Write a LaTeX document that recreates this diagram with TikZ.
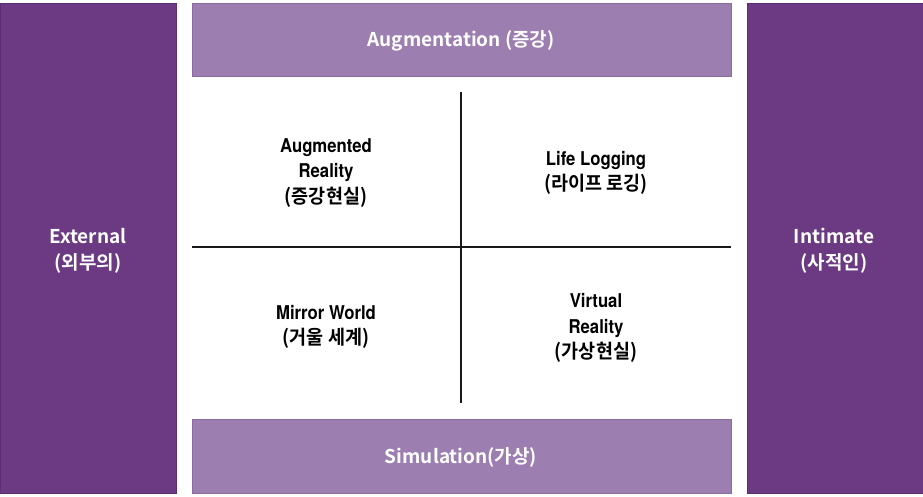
\documentclass[tikz,border=0pt]{standalone}
\usepackage{fontspec}
\newfontfamily\barfont{Noto Sans CJK KR}[BoldFont={Noto Sans CJK KR Bold}]
\newfontfamily\qlat{TeX Gyre Heros}[FakeStretch=0.88]
\newfontfamily\qkr{Noto Sans CJK KR}[BoldFont={Noto Sans CJK KR Bold},FakeStretch=0.95]
\definecolor{darkpurple}{RGB}{108,58,131}
\definecolor{darkedge}{RGB}{92,44,116}
\definecolor{lightpurple}{RGB}{157,126,176}
\definecolor{lightedge}{RGB}{140,106,162}
\begin{document}
\begin{tikzpicture}[x=1pt,y=-1pt,
  sidebar/.style={fill=darkpurple,draw=darkedge,line width=0.8pt},
  axisbar/.style={fill=lightpurple,draw=lightedge,line width=0.8pt},
  bartext/.style={text=white,align=center,font=\barfont\bfseries\fontsize{19}{26}\selectfont},
  quadtext/.style={text=black,align=center,font=\qlat\bfseries\fontsize{19}{25.5}\selectfont},
  axisline/.style={draw=black!90,line width=2pt}]
\useasboundingbox (0,0) rectangle (923,496);
\fill[white] (0,0) rectangle (923,496);
\draw[sidebar] (0,3) rectangle (176,493);
\draw[sidebar] (747,3) rectangle (923,493);
\draw[axisbar] (192,3) rectangle (731,76);
\draw[axisbar] (192,419) rectangle (731,493);
\coordinate (vtop) at (461,92);
\coordinate (vbot) at (461,403);
\coordinate (hleft) at (192,247);
\coordinate (hright) at (731,247);
\draw[axisline] (vtop) -- (vbot);
\draw[axisline] (hleft) -- (hright);
\node[bartext] (aug) at (461,41) {Augmentation (증강)};
\node[bartext] (sim) at (461,457) {Simulation(가상)};
\node[bartext] (ext) at (88,251) {External\\(외부의)};
\node[bartext] (int) at (834,251) {Intimate\\(사적인)};
\node[quadtext] (ar) at (326,173) {Augmented\\Reality\\{\qkr\bfseries\fontsize{19.5}{25.5}\selectfont (증강현실)}};
\node[quadtext] (ll) at (596,173) {Life Logging\\{\qkr\bfseries\fontsize{19.5}{25.5}\selectfont (라이프 로깅)}};
\node[quadtext] (mw) at (326,327) {Mirror World\\{\qkr\bfseries\fontsize{19.5}{25.5}\selectfont (거울 세계)}};
\node[quadtext] (vr) at (596,328) {Virtual\\Reality\\{\qkr\bfseries\fontsize{19.5}{25.5}\selectfont (가상현실)}};
\end{tikzpicture}
\end{document}
